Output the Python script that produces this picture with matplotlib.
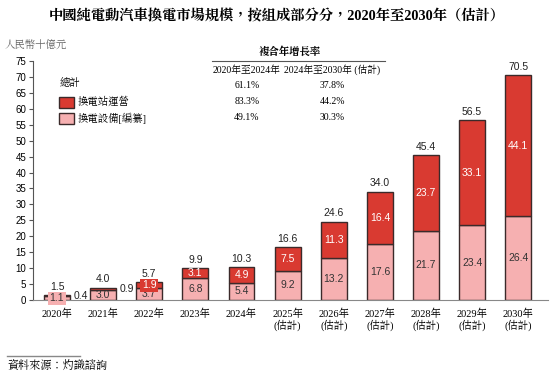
import matplotlib.pyplot as plt
import numpy as np

plt.rcParams['font.family'] = ['Liberation Sans', 'Noto Sans CJK TC']

# data
years = ["2020年", "2021年", "2022年", "2023年", "2024年",
         "2025年\n(估計)", "2026年\n(估計)", "2027年\n(估計)",
         "2028年\n(估計)", "2029年\n(估計)", "2030年\n(估計)"]
equipment = [1.1, 3.0, 3.7, 6.8, 5.4, 9.2, 13.2, 17.6, 21.7, 23.4, 26.4]
station = [0.4, 0.9, 1.9, 3.1, 4.9, 7.5, 11.3, 16.4, 23.7, 33.1, 44.1]
totals = [1.5, 4.0, 5.7, 9.9, 10.3, 16.6, 24.6, 34.0, 45.4, 56.5, 70.5]

cagr_periods = ["2020年至2024年", "2024年至2030年 (估計)"]
cagr_total = ["61.1%", "37.8%"]
cagr_station = ["83.3%", "44.2%"]
cagr_equipment = ["49.1%", "30.3%"]

RED = "#d93a31"
PINK = "#f6b0b1"
EDGE = "#3b2a2a"
serif = ['Liberation Serif', 'Noto Serif CJK TC', 'Noto Sans CJK TC']

fig = plt.figure(figsize=(5.54, 3.81), dpi=100)
ax = fig.add_axes([0.0596, 0.2126, 0.93, 0.6274])

x = np.arange(len(years))
w = 0.56
ax.bar(x, equipment, w, color=PINK, edgecolor=EDGE, linewidth=1.0)
ax.bar(x, station, w, bottom=equipment, color=RED, edgecolor=EDGE, linewidth=1.0)

for i in range(len(x)):
    e, s, t = equipment[i], station[i], totals[i]
    # equipment label
    if e < 2:
        ax.text(x[i], e / 2, f"{e}", ha="center", va="center", fontsize=7.5, color="#333333",
                bbox=dict(boxstyle="square,pad=0.15", fc=PINK, ec="none"))
    else:
        ax.text(x[i], e / 2, f"{e}", ha="center", va="center", fontsize=7.5, color="#333333")
    # station label
    if s < 1.5:
        ax.text(x[i] + w / 2 + 0.08, e + s / 2, f"{s}", ha="left", va="center", fontsize=7.5, color="#222222")
    elif s < 2.5:
        ax.text(x[i], e + s / 2, f"{s}", ha="center", va="center", fontsize=7.5, color="white",
                bbox=dict(boxstyle="square,pad=0.15", fc=RED, ec="none"))
    else:
        ax.text(x[i], e + s / 2, f"{s}", ha="center", va="center", fontsize=7.5, color="white")
    ax.text(x[i], t + 1.0, f"{t}", ha="center", va="bottom", fontsize=7.5, color="#222222")

ax.set_xlim(-0.52, 10.65)
ax.set_ylim(0, 75)
ax.set_yticks(range(0, 76, 5))
ax.tick_params(axis="y", labelsize=7, length=3, color="#555555", pad=2)
ax.set_xticks(x)
ax.set_xticklabels(years, fontsize=7.5, family=serif, linespacing=1.1)
ax.tick_params(axis="x", length=0, pad=6)
for side in ["top", "right"]:
    ax.spines[side].set_visible(False)
ax.spines["left"].set_color("#555555")
ax.spines["bottom"].set_color("#888888")

# title
fig.text(0.5, 0.96, "中國純電動汽車換電市場規模，按組成部分分，2020年至2030年（估計）",
         ha="center", va="center", fontsize=10.3, fontweight="bold", family=serif)
fig.text(0.008, 0.882, "人民幣十億元", ha="left", va="center", fontsize=7.5,
         style="italic", color="#666666", family=serif)

# legend
fig.text(60 / 554, 1 - 83 / 381, "總計", ha="left", va="center", fontsize=7.5, family=serif)
for k, (lab, col) in enumerate([("換電站運營", RED), ("換電設備[編纂]", PINK)]):
    yy = 1 - (102 + 16 * k) / 381
    fig.patches.append(plt.Rectangle((59 / 554, yy - 5.5 / 381), 15 / 554, 11 / 381,
                                     transform=fig.transFigure, fc=col, ec=EDGE, lw=1.0))
    fig.text(78 / 554, yy, lab, ha="left", va="center", fontsize=7.5, family=serif)

# CAGR table
fig.text(290 / 554, 1 - 51 / 381, "複合年增長率", ha="center", va="center", fontsize=7.5,
         fontweight="bold", family=serif)
fig.add_artist(plt.Line2D([212 / 554, 385 / 554], [1 - 61 / 381, 1 - 61 / 381],
                          color="#555555", lw=0.8))
col_x = [247 / 554, 332 / 554]
for j in range(2):
    fig.text(col_x[j], 1 - 70 / 381, cagr_periods[j], ha="center", va="center", fontsize=7, family=serif)
    for r, vals in enumerate([cagr_total, cagr_station, cagr_equipment]):
        fig.text(col_x[j], 1 - (86 + 15.5 * r) / 381, vals[j], ha="center", va="center",
                 fontsize=7, family=serif)

# source
fig.add_artist(plt.Line2D([7 / 554, 80 / 554], [1 - 356 / 381, 1 - 356 / 381], color="#888888", lw=1))
fig.text(7 / 554, 1 - 366 / 381, "資料來源：灼識諮詢", ha="left", va="center", fontsize=8,
         style="italic", family=serif)

fig.savefig("out.png", dpi=100)
